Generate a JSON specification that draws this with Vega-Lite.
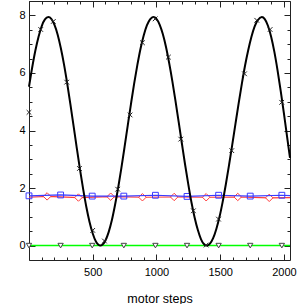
{
  "$schema": "https://vega.github.io/schema/vega-lite/v6.json",
  "autosize": {"type": "none"},
  "padding": {"left": 29, "top": 1, "right": 10, "bottom": 44},
  "width": 261,
  "height": 259,
  "background": "white",
  "config": {
    "view": {"stroke": "#222", "strokeWidth": 1},
    "axis": {"labelFont": "Liberation Sans", "titleFont": "Liberation Sans", "labelColor": "black", "titleColor": "black", "tickColor": "#222", "grid": false}
  },
  "datasets": {
    "curve": [
      {"x": 0, "y": 5.52}, {"x": 25, "y": 6.19}, {"x": 50, "y": 6.78}, {"x": 75, "y": 7.26}, {"x": 100, "y": 7.63}, {"x": 125, "y": 7.86}, {"x": 152, "y": 7.94}, {"x": 175, "y": 7.88}, {"x": 200, "y": 7.67}, {"x": 225, "y": 7.33}, {"x": 250, "y": 6.86}, {"x": 275, "y": 6.29}, {"x": 300, "y": 5.63}, {"x": 325, "y": 4.91}, {"x": 350, "y": 4.15}, {"x": 375, "y": 3.39}, {"x": 400, "y": 2.65}, {"x": 425, "y": 1.96}, {"x": 450, "y": 1.34}, {"x": 475, "y": 0.82}, {"x": 500, "y": 0.42}, {"x": 525, "y": 0.14}, {"x": 545, "y": 0.03}, {"x": 560, "y": 0.0}, {"x": 575, "y": 0.03}, {"x": 600, "y": 0.18}, {"x": 625, "y": 0.47}, {"x": 650, "y": 0.88}, {"x": 675, "y": 1.41}, {"x": 700, "y": 2.02}, {"x": 725, "y": 2.70}, {"x": 750, "y": 3.43}, {"x": 775, "y": 4.18}, {"x": 800, "y": 4.92}, {"x": 825, "y": 5.63}, {"x": 850, "y": 6.27}, {"x": 875, "y": 6.84}, {"x": 900, "y": 7.30}, {"x": 925, "y": 7.65}, {"x": 950, "y": 7.86}, {"x": 976, "y": 7.94}, {"x": 1000, "y": 7.88}, {"x": 1025, "y": 7.68}, {"x": 1050, "y": 7.35}, {"x": 1075, "y": 6.90}, {"x": 1100, "y": 6.34}, {"x": 1125, "y": 5.71}, {"x": 1150, "y": 5.01}, {"x": 1175, "y": 4.28}, {"x": 1200, "y": 3.54}, {"x": 1225, "y": 2.81}, {"x": 1250, "y": 2.13}, {"x": 1275, "y": 1.50}, {"x": 1300, "y": 0.97}, {"x": 1325, "y": 0.54}, {"x": 1350, "y": 0.22}, {"x": 1375, "y": 0.04}, {"x": 1395, "y": 0.0}, {"x": 1420, "y": 0.07}, {"x": 1445, "y": 0.26}, {"x": 1470, "y": 0.58}, {"x": 1495, "y": 1.00}, {"x": 1520, "y": 1.53}, {"x": 1545, "y": 2.14}, {"x": 1570, "y": 2.81}, {"x": 1595, "y": 3.51}, {"x": 1620, "y": 4.23}, {"x": 1645, "y": 4.94}, {"x": 1670, "y": 5.62}, {"x": 1695, "y": 6.25}, {"x": 1720, "y": 6.79}, {"x": 1745, "y": 7.25}, {"x": 1770, "y": 7.61}, {"x": 1795, "y": 7.83}, {"x": 1827, "y": 7.94}, {"x": 1850, "y": 7.87}, {"x": 1875, "y": 7.64}, {"x": 1900, "y": 7.26}, {"x": 1925, "y": 6.74}, {"x": 1950, "y": 6.10}, {"x": 1975, "y": 5.38}, {"x": 2000, "y": 4.60}, {"x": 2025, "y": 3.79}, {"x": 2048, "y": 3.05}
    ],
    "curveMarks": [
      {"x": 0, "y": 4.63}, {"x": 92, "y": 7.51}, {"x": 191, "y": 7.79}, {"x": 296, "y": 5.68}, {"x": 396, "y": 2.68}, {"x": 500, "y": 0.53}, {"x": 592, "y": 0.16}, {"x": 696, "y": 1.96}, {"x": 793, "y": 4.54}, {"x": 890, "y": 7.05}, {"x": 990, "y": 7.88}, {"x": 1094, "y": 6.55}, {"x": 1191, "y": 3.70}, {"x": 1290, "y": 1.21}, {"x": 1390, "y": 0.02}, {"x": 1487, "y": 0.92}, {"x": 1591, "y": 3.30}, {"x": 1691, "y": 5.97}, {"x": 1787, "y": 7.83}, {"x": 1892, "y": 7.51}, {"x": 1983, "y": 4.98}
    ],
    "blue": [
      {"x": 0, "y": 1.73}, {"x": 248, "y": 1.76}, {"x": 496, "y": 1.72}, {"x": 744, "y": 1.72}, {"x": 992, "y": 1.75}, {"x": 1240, "y": 1.71}, {"x": 1488, "y": 1.75}, {"x": 1736, "y": 1.72}, {"x": 1984, "y": 1.75}, {"x": 2048, "y": 1.74}
    ],
    "blueMarks": [
      {"x": 0, "y": 1.73}, {"x": 248, "y": 1.76}, {"x": 496, "y": 1.72}, {"x": 744, "y": 1.72}, {"x": 992, "y": 1.75}, {"x": 1240, "y": 1.71}, {"x": 1488, "y": 1.75}, {"x": 1736, "y": 1.72}, {"x": 1984, "y": 1.75}
    ],
    "red": [
      {"x": 0, "y": 1.68}, {"x": 142, "y": 1.71}, {"x": 388, "y": 1.67}, {"x": 641, "y": 1.70}, {"x": 890, "y": 1.68}, {"x": 1139, "y": 1.69}, {"x": 1390, "y": 1.68}, {"x": 1638, "y": 1.69}, {"x": 1885, "y": 1.66}, {"x": 2048, "y": 1.67}
    ],
    "redMarks": [
      {"x": 142, "y": 1.71}, {"x": 388, "y": 1.67}, {"x": 641, "y": 1.70}, {"x": 890, "y": 1.68}, {"x": 1139, "y": 1.69}, {"x": 1390, "y": 1.68}, {"x": 1638, "y": 1.69}, {"x": 1885, "y": 1.66}
    ],
    "green": [
      {"x": 0, "y": 0.0}, {"x": 2048, "y": 0.0}
    ],
    "greenMarks": [
      {"x": 0, "y": 0.0}, {"x": 248, "y": 0.0}, {"x": 496, "y": 0.0}, {"x": 744, "y": 0.0}, {"x": 992, "y": 0.0}, {"x": 1240, "y": 0.0}, {"x": 1488, "y": 0.0}, {"x": 1736, "y": 0.0}, {"x": 1984, "y": 0.0}
    ]
  },
  "layer": [
    {
      "data": {"name": "green"},
      "mark": {"type": "line", "color": "#00ff00", "strokeWidth": 1.5},
      "encoding": {
        "x": {"field": "x", "type": "quantitative", "scale": {"domain": [0, 2048], "nice": false, "zero": false},
              "axis": {"orient": "bottom", "values": [500, 1000, 1500, 2000], "format": "d", "ticks": false, "domain": false, "labelFontSize": 11, "labelPadding": 6, "title": "motor steps", "titleFontSize": 12.5, "titleFontWeight": "normal", "titlePadding": 15}},
        "y": {"field": "y", "type": "quantitative", "scale": {"domain": [-0.5, 8.5], "nice": false, "zero": false},
              "axis": {"orient": "left", "values": [0, 2, 4, 6, 8], "format": "d", "ticks": false, "domain": false, "labelFontSize": 11, "labelPadding": 4, "title": null}}
      }
    },
    {
      "data": {"name": "greenMarks"},
      "mark": {"type": "point", "shape": "triangle-down", "filled": true, "fill": "white", "stroke": "#444", "strokeWidth": 1, "size": 28, "opacity": 1},
      "encoding": {
        "x": {"field": "x", "type": "quantitative", "scale": {"domain": [0, 2048], "nice": false, "zero": false},
              "axis": {"orient": "bottom", "values": [0, 500, 1000, 1500, 2000], "labels": false, "domain": false, "tickSize": -6, "title": null}},
        "y": {"field": "y", "type": "quantitative", "scale": {"domain": [-0.5, 8.5], "nice": false, "zero": false},
              "axis": {"orient": "left", "values": [0, 2, 4, 6, 8], "labels": false, "domain": false, "tickSize": -6, "title": null}}
      }
    },
    {
      "data": {"name": "red"},
      "mark": {"type": "line", "color": "#ff3b3b", "strokeWidth": 1.2},
      "encoding": {
        "x": {"field": "x", "type": "quantitative", "scale": {"domain": [0, 2048], "nice": false, "zero": false},
              "axis": {"orient": "top", "values": [0, 500, 1000, 1500, 2000], "labels": false, "domain": false, "tickSize": -6, "title": null}},
        "y": {"field": "y", "type": "quantitative", "scale": {"domain": [-0.5, 8.5], "nice": false, "zero": false},
              "axis": {"orient": "right", "values": [0, 2, 4, 6, 8], "labels": false, "domain": false, "tickSize": -6, "title": null}}
      }
    },
    {
      "data": {"name": "redMarks"},
      "mark": {"type": "point", "shape": "diamond", "filled": true, "fill": "white", "stroke": "#ff3b3b", "strokeWidth": 1, "size": 55, "opacity": 1},
      "encoding": {
        "x": {"field": "x", "type": "quantitative", "scale": {"domain": [0, 2048], "nice": false, "zero": false},
              "axis": {"orient": "bottom", "values": [100, 200, 300, 400, 600, 700, 800, 900, 1100, 1200, 1300, 1400, 1600, 1700, 1800, 1900], "labels": false, "domain": false, "tickSize": -3, "title": null}},
        "y": {"field": "y", "type": "quantitative", "scale": {"domain": [-0.5, 8.5], "nice": false, "zero": false},
              "axis": {"orient": "left", "values": [0.5, 1, 1.5, 2.5, 3, 3.5, 4.5, 5, 5.5, 6.5, 7, 7.5, 8.5], "labels": false, "domain": false, "tickSize": -3, "title": null}}
      }
    },
    {
      "data": {"name": "blue"},
      "mark": {"type": "line", "color": "#3a3aff", "strokeWidth": 1.2},
      "encoding": {
        "x": {"field": "x", "type": "quantitative", "scale": {"domain": [0, 2048], "nice": false, "zero": false},
              "axis": {"orient": "top", "values": [100, 200, 300, 400, 600, 700, 800, 900, 1100, 1200, 1300, 1400, 1600, 1700, 1800, 1900], "labels": false, "domain": false, "tickSize": -3, "title": null}},
        "y": {"field": "y", "type": "quantitative", "scale": {"domain": [-0.5, 8.5], "nice": false, "zero": false},
              "axis": {"orient": "right", "values": [0.5, 1, 1.5, 2.5, 3, 3.5, 4.5, 5, 5.5, 6.5, 7, 7.5, 8.5], "labels": false, "domain": false, "tickSize": -3, "title": null}}
      }
    },
    {
      "data": {"name": "blueMarks"},
      "mark": {"type": "point", "shape": "square", "filled": false, "stroke": "#3a3aff", "strokeWidth": 1, "size": 34, "opacity": 1},
      "encoding": {
        "x": {"field": "x", "type": "quantitative", "scale": {"domain": [0, 2048], "nice": false, "zero": false}, "axis": null},
        "y": {"field": "y", "type": "quantitative", "scale": {"domain": [-0.5, 8.5], "nice": false, "zero": false}, "axis": null}
      }
    },
    {
      "data": {"name": "curve"},
      "mark": {"type": "line", "color": "black", "strokeWidth": 2, "interpolate": "monotone"},
      "encoding": {
        "x": {"field": "x", "type": "quantitative", "scale": {"domain": [0, 2048], "nice": false, "zero": false}, "axis": null},
        "y": {"field": "y", "type": "quantitative", "scale": {"domain": [-0.5, 8.5], "nice": false, "zero": false}, "axis": null}
      }
    },
    {
      "data": {"name": "curveMarks"},
      "mark": {"type": "point", "shape": "M-1,-1L1,1M-1,1L1,-1", "filled": false, "stroke": "#222", "strokeWidth": 1, "size": 22, "opacity": 1},
      "encoding": {
        "x": {"field": "x", "type": "quantitative", "scale": {"domain": [0, 2048], "nice": false, "zero": false}, "axis": null},
        "y": {"field": "y", "type": "quantitative", "scale": {"domain": [-0.5, 8.5], "nice": false, "zero": false}, "axis": null}
      }
    }
  ],
  "resolve": {"axis": {"x": "independent", "y": "independent"}}
}
